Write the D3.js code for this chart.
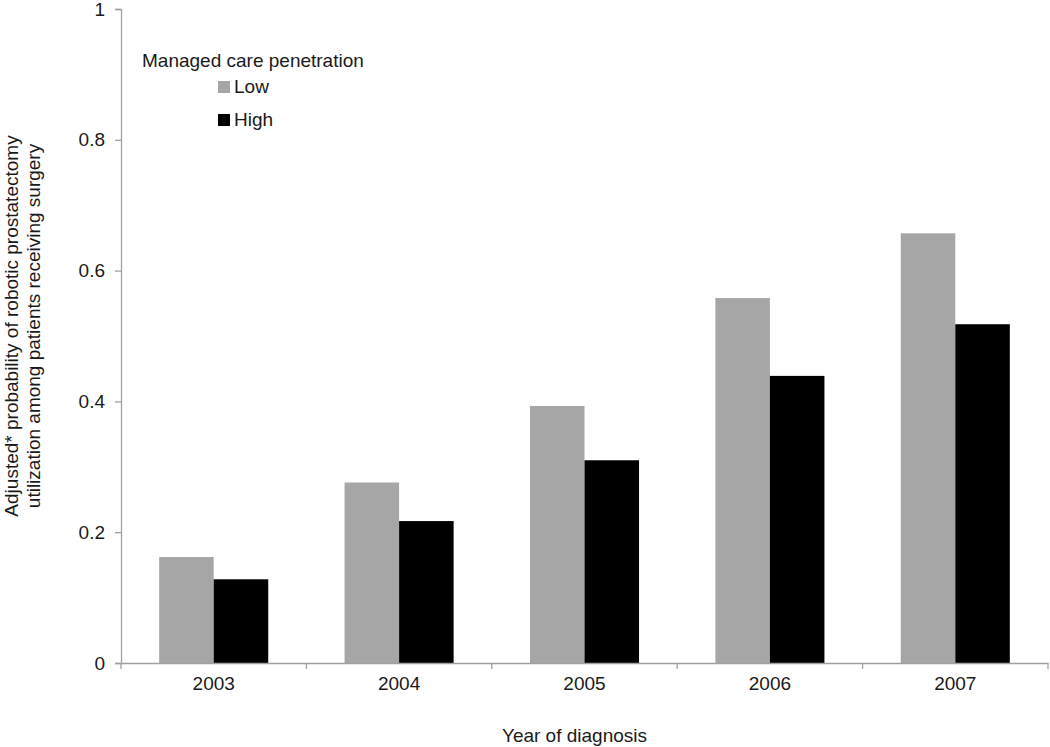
<!DOCTYPE html>
<html>
<head>
<meta charset="utf-8">
<script src="https://cdn.jsdelivr.net/npm/d3@7"></script>
<style>
  body { margin: 0; background: #fff; }
  svg text { font-family: 'Liberation Sans', Arial, sans-serif; fill: #1a1a1a; }
</style>
</head>
<body>
<div id="chart"></div>
<script>
const years = ['2003', '2004', '2005', '2006', '2007'];
const seriesNames = ['Low', 'High'];
const lowValues = [0.162, 0.276, 0.393, 0.558, 0.657];
const highValues = [0.128, 0.217, 0.310, 0.439, 0.518];
const yTicks = [0, 0.2, 0.4, 0.6, 0.8, 1];
const colors = ['#a6a6a6', '#000000'];

const width = 1050;
const height = 747;
const margin = {top: 9, right: 2, bottom: 84, left: 121};
const fontSize = 19;

const data = years.map((y, i) => ({year: y, Low: lowValues[i], High: highValues[i]}));

const svg = d3.select('#chart')
  .append('svg')
  .attr('width', width).attr('height', height);

const x = d3.scaleBand()
  .domain(years)
  .range([margin.left, width - margin.right]);

const x1 = d3.scaleBand()
  .domain(seriesNames)
  .range([0, x.bandwidth()])
  .paddingOuter(0.7)
  .paddingInner(0);

const y = d3.scaleLinear()
  .domain([0, 1])
  .range([height - margin.bottom, margin.top]);

const color = d3.scaleOrdinal().domain(seriesNames).range(colors);

// bars
const groups = svg.selectAll('.year')
  .data(data)
  .enter()
  .append('g')
  .attr('class', 'year')
  .attr('transform', d => 'translate(' + x(d.year) + ',0)');

groups.selectAll('rect')
  .data(d => seriesNames.map(k => ({key: k, value: d[k]})))
  .enter()
  .append('rect')
  .attr('x', d => x1(d.key))
  .attr('y', d => y(d.value))
  .attr('width', x1.bandwidth())
  .attr('height', d => y(0) - y(d.value))
  .attr('fill', d => color(d.key));

// axes
const yAxis = svg.append('g')
  .attr('transform', 'translate(' + margin.left + ',0)')
  .call(d3.axisLeft(y).tickValues(yTicks).tickSize(6).tickPadding(10).tickFormat(d3.format('')));

const xAxis = svg.append('g')
  .attr('transform', 'translate(0,' + y(0) + ')')
  .call(d3.axisBottom(x).tickSize(0).tickPadding(14));

// category boundary ticks like the original
xAxis.selectAll('.edge')
  .data(years.map(v => x(v)).concat([x(years[years.length - 1]) + x.bandwidth()]))
  .enter()
  .append('line')
  .attr('class', 'edge')
  .attr('x1', d => d).attr('x2', d => d)
  .attr('y1', 0).attr('y2', 6);

[yAxis, xAxis].forEach(a => {
  a.select('.domain').attr('stroke', '#a0a0a0').attr('stroke-width', 1.3);
  a.selectAll('line').attr('stroke', '#a0a0a0').attr('stroke-width', 1.3);
  a.selectAll('text').attr('font-size', fontSize).attr('fill', '#1a1a1a');
});

// axis titles
svg.append('text')
  .attr('x', (margin.left + width - margin.right) / 2 - 10)
  .attr('y', 742)
  .attr('text-anchor', 'middle')
  .attr('font-size', fontSize)
  .text('Year of diagnosis');

const yTitle = svg.append('text')
  .attr('transform', 'translate(0,326) rotate(-90)')
  .attr('text-anchor', 'middle')
  .attr('font-size', fontSize);
yTitle.append('tspan').attr('x', 0).attr('y', 18)
  .text('Adjusted* probability of robotic prostatectomy');
yTitle.append('tspan').attr('x', 0).attr('y', 40)
  .text('utilization among patients receiving surgery');

// legend
const legend = svg.append('g');
legend.append('text')
  .attr('x', 142).attr('y', 67)
  .attr('font-size', fontSize)
  .text('Managed care penetration');

const items = legend.selectAll('.item')
  .data(seriesNames)
  .enter()
  .append('g')
  .attr('class', 'item')
  .attr('transform', (d, i) => 'translate(218,' + (81 + i * 33) + ')');

items.append('rect')
  .attr('width', 12).attr('height', 12)
  .attr('fill', d => color(d));

items.append('text')
  .attr('x', 16).attr('y', 12)
  .attr('font-size', fontSize)
  .text(d => d);
</script>
</body>
</html>
